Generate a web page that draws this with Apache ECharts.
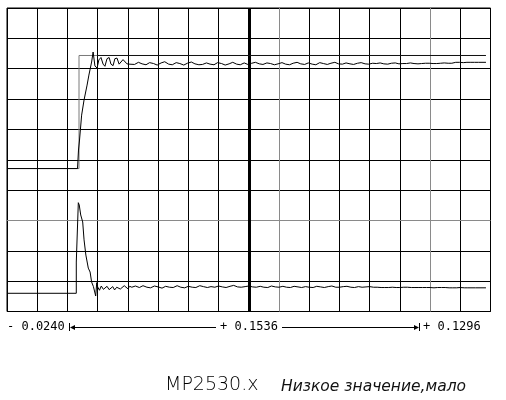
<!DOCTYPE html>
<html><head><meta charset="utf-8">
<script src="https://cdn.jsdelivr.net/npm/echarts@6/dist/echarts.min.js"></script>
<style>html,body{margin:0;padding:0;background:#fff}#c{width:506px;height:400px}</style>
</head><body><div id="c"></div>
<script>
// x in horizontal divisions (0..16), y in vertical divisions (0..10)
const upperRef = [[0,4.71],[2.383,4.71],[2.383,8.435],[2.98,8.435]];
const upperLevel = [[2.98,8.435],[15.85,8.435]];
const upperTrace = [
[0,4.71],[2.333,4.71],[2.366,5.32],[2.40,5.65],[2.47,6.47],[2.55,6.97],[2.65,7.46],[2.71,7.79],
[2.80,8.22],[2.85,8.55],[2.88,8.55],[2.91,8.09],[2.98,8.02],[3.04,8.29],[3.11,8.37],[3.18,8.15],
[3.24,8.08],[3.31,8.33],[3.38,8.37],[3.44,8.15],[3.51,8.10],[3.57,8.33],[3.64,8.35],[3.71,8.15],
[3.77,8.12],[3.84,8.30],[3.90,8.28],[3.97,8.16],[4.04,8.15],
[4.10,8.18],[4.22,8.14],[4.35,8.21],[4.47,8.16],[4.60,8.13],[4.72,8.20],[4.85,8.17],[4.97,8.12],
[5.10,8.19],[5.22,8.23],[5.35,8.15],[5.47,8.13],[5.60,8.20],[5.72,8.17],[5.85,8.12],[5.97,8.18],
[6.10,8.22],[6.22,8.16],[6.35,8.13],[6.47,8.14],[6.60,8.19],[6.72,8.15],[6.85,8.13],[6.97,8.20],
[7.10,8.17],[7.22,8.12],[7.35,8.16],[7.47,8.21],[7.60,8.15],[7.72,8.13],[7.85,8.19],[7.97,8.14],
[8.10,8.18],[8.22,8.21],[8.35,8.16],[8.47,8.14],[8.60,8.19],[8.72,8.17],[8.85,8.13],[8.97,8.16],
[9.10,8.20],[9.22,8.15],[9.35,8.13],[9.47,8.18],[9.60,8.21],[9.72,8.16],[9.85,8.14],[9.97,8.19],
[10.10,8.15],[10.22,8.13],[10.35,8.20],[10.47,8.17],[10.60,8.14],[10.72,8.18],[10.85,8.21],[10.97,8.16],
[11.10,8.15],[11.22,8.19],[11.35,8.16],[11.47,8.14],[11.60,8.18],[11.72,8.20],[11.85,8.16],[11.97,8.15],
[12.10,8.18],[12.22,8.17],[12.35,8.19],[12.47,8.16],[12.60,8.15],[12.72,8.18],[12.85,8.19],[12.97,8.16],
[13.10,8.17],[13.22,8.17],[13.35,8.19],[13.47,8.17],[13.60,8.16],[13.72,8.17],[13.85,8.18],[13.97,8.18],
[14.10,8.17],[14.22,8.17],[14.35,8.18],[14.47,8.19],[14.60,8.18],[14.72,8.18],[14.85,8.21],[14.97,8.21],
[15.10,8.20],[15.22,8.21],[15.35,8.21],[15.47,8.21],[15.60,8.21],[15.85,8.21]
];
const lowerTrace = [
[0,0.60],[2.293,0.60],[2.293,1.63],[2.36,3.585],[2.39,3.51],[2.44,3.18],[2.505,2.95],[2.55,2.36],
[2.61,1.86],[2.69,1.43],[2.75,1.30],[2.80,0.97],[2.86,0.82],[2.89,0.87],[2.935,0.51],[2.97,0.95],
[3.00,0.81],[3.06,0.70],[3.12,0.84],[3.19,0.73],[3.25,0.68],[3.31,0.83],[3.38,0.72],[3.44,0.70],
[3.50,0.82],[3.56,0.71],[3.63,0.80],[3.69,0.84],[3.75,0.74],[3.81,0.78],[3.88,0.85],[3.94,0.79],
[4.00,0.75],[4.06,0.83],[4.13,0.80],[4.19,0.77],[4.25,0.84],[4.31,0.82],
[4.38,0.79],[4.50,0.85],[4.63,0.80],[4.75,0.78],[4.88,0.84],[5.00,0.81],[5.13,0.77],[5.25,0.83],
[5.38,0.80],[5.50,0.79],[5.63,0.85],[5.75,0.80],[5.88,0.78],[6.00,0.83],[6.13,0.80],[6.25,0.79],
[6.38,0.85],[6.50,0.82],[6.63,0.79],[6.75,0.82],[6.88,0.80],[7.00,0.84],[7.13,0.81],[7.25,0.79],
[7.38,0.83],[7.50,0.86],[7.63,0.81],[7.75,0.80],[7.88,0.82],[8.00,0.84],[8.13,0.81],[8.25,0.80],
[8.38,0.83],[8.50,0.80],[8.63,0.79],[8.75,0.84],[8.88,0.81],[9.00,0.80],[9.13,0.83],[9.25,0.80],
[9.38,0.79],[9.50,0.83],[9.63,0.81],[9.75,0.79],[9.88,0.82],[10.00,0.80],[10.13,0.79],[10.25,0.83],
[10.38,0.81],[10.50,0.79],[10.63,0.82],[10.75,0.84],[10.88,0.80],[11.00,0.80],[11.13,0.82],[11.25,0.83],
[11.38,0.80],[11.50,0.79],[11.63,0.82],[11.75,0.80],[11.88,0.81],[12.00,0.82],[12.13,0.80],[12.25,0.80],
[12.38,0.79],[12.50,0.79],[12.63,0.79],[12.75,0.80],[12.88,0.79],[13.00,0.79],[13.13,0.80],[13.25,0.80],
[13.38,0.79],[13.50,0.79],[13.63,0.79],[13.75,0.79],[13.88,0.79],[14.00,0.79],[14.13,0.78],[14.25,0.79],
[14.38,0.79],[14.50,0.79],[14.63,0.78],[14.75,0.78],[14.88,0.78],[15.00,0.79],[15.13,0.78],[15.25,0.78],
[15.50,0.78],[15.85,0.78]
];
const grayVLines = [9, 14];
const grayHLines = [3];
const centerVLine = 8;
const cursorLeftLabel = '- 0.0240';
const cursorMidLabel = '+ 0.1536';
const cursorRightLabel = '+ 0.1296';
const titleText = 'MP2530.x';
const subtitleText = 'Низкое значение,мало';

const chart = echarts.init(document.getElementById('c'), null, {renderer: 'canvas'});
const markData = [];
grayVLines.forEach(v => markData.push({xAxis: v, lineStyle: {color: '#8a8a8a', width: 1, type: 'solid'}}));
grayHLines.forEach(v => markData.push({yAxis: v, lineStyle: {color: '#8a8a8a', width: 1, type: 'solid'}}));
markData.push({xAxis: centerVLine, lineStyle: {color: '#000', width: 3, type: 'solid'}});

const axisCommon = {
  type: 'value', axisLine: {show: false}, axisTick: {show: false}, axisLabel: {show: false},
  splitLine: {show: true, lineStyle: {color: '#000', width: 1}}
};
const mono = '12px "DejaVu Sans Mono"';
chart.setOption({
  animation: false,
  backgroundColor: '#fff',
  grid: {left: 7, top: 8, width: 483.5, height: 303.5, show: true, borderColor: '#000', borderWidth: 1, backgroundColor: 'transparent'},
  xAxis: Object.assign({min: 0, max: 16, interval: 1}, axisCommon),
  yAxis: Object.assign({min: 0, max: 10, interval: 1}, axisCommon),
  series: [
    {type: 'line', data: upperRef, symbol: 'none', lineStyle: {color: '#7a7a7a', width: 1}, z: 2, silent: true,
     markLine: {silent: true, symbol: ['none', 'none'], label: {show: false}, data: markData, z: 2}},
    {type: 'line', data: upperLevel, symbol: 'none', lineStyle: {color: '#111', width: 1}, z: 2, silent: true},
    {type: 'line', data: upperTrace, symbol: 'none', lineStyle: {color: '#000', width: 1}, z: 3, silent: true},
    {type: 'line', data: lowerTrace, symbol: 'none', lineStyle: {color: '#000', width: 1}, z: 3, silent: true}
  ],
  graphic: [
    {type: 'text', x: 7, y: 327, style: {text: cursorLeftLabel, font: mono, fill: '#000', align: 'left', verticalAlign: 'middle'}},
    {type: 'line', shape: {x1: 69.5, y1: 323, x2: 69.5, y2: 331}, style: {stroke: '#000', lineWidth: 1}},
    {type: 'polygon', shape: {points: [[70, 327.5], [75, 325], [75, 330]]}, style: {fill: '#000'}},
    {type: 'line', shape: {x1: 75, y1: 327.5, x2: 216, y2: 327.5}, style: {stroke: '#000', lineWidth: 1}},
    {type: 'text', x: 249, y: 327, style: {text: cursorMidLabel, font: mono, fill: '#000', align: 'center', verticalAlign: 'middle'}},
    {type: 'line', shape: {x1: 282, y1: 327.5, x2: 414, y2: 327.5}, style: {stroke: '#000', lineWidth: 1}},
    {type: 'polygon', shape: {points: [[419, 327.5], [414, 325], [414, 330]]}, style: {fill: '#000'}},
    {type: 'line', shape: {x1: 419.5, y1: 323, x2: 419.5, y2: 331}, style: {stroke: '#000', lineWidth: 1}},
    {type: 'text', x: 423, y: 327, style: {text: cursorRightLabel, font: mono, fill: '#000', align: 'left', verticalAlign: 'middle'}},
    {type: 'text', x: 165, y: 395, style: {text: titleText, font: '200 19px "DejaVu Sans"', fill: '#000', align: 'left', verticalAlign: 'bottom'}},
    {type: 'text', x: 281, y: 395, style: {text: subtitleText, font: 'italic 15.5px "DejaVu Sans"', fill: '#111', align: 'left', verticalAlign: 'bottom'}}
  ]
});
</script></body></html>
